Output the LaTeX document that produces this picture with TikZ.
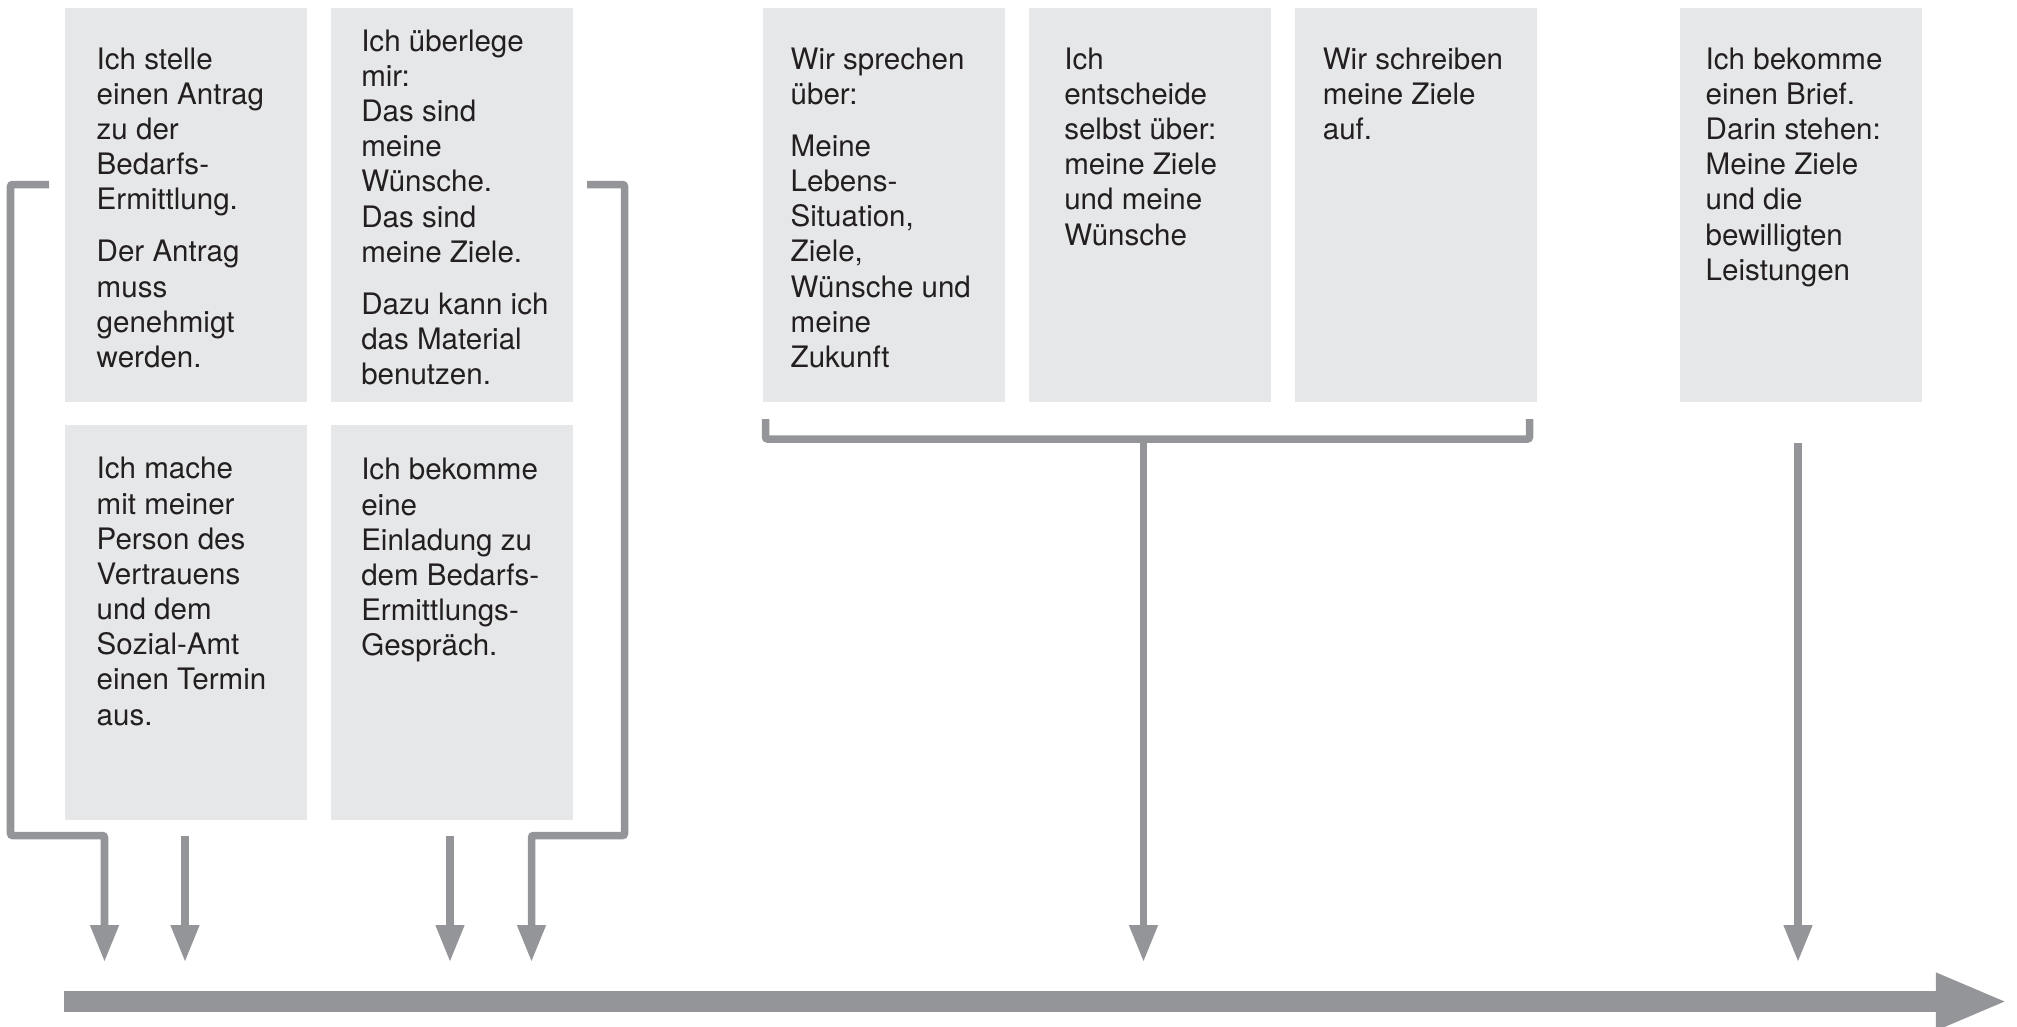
\documentclass[tikz,border=0pt]{standalone}
\usepackage{fontspec}
\setmainfont{TeX Gyre Heros}
\usepackage{xcolor}
\usepackage{tikz}
\usetikzlibrary{arrows.meta, positioning}
\definecolor{cBox}{RGB}{230,231,232}
\definecolor{cLine}{RGB}{148,149,153}
\definecolor{cText}{RGB}{35,31,32}
\tikzset{
	box/.style     ={rectangle, fill=cBox, draw=none, inner sep=0pt, minimum width=2.42cm, minimum height=3.94cm},
	txt/.style     ={inner sep=0pt, align=left, text=cText, font=\fontsize{8.4}{10}\selectfont},
	link/.style    ={draw=cLine, line width=0.075cm, rounded corners=0.6pt},
	flow/.style    ={link, -{Triangle[length=0.37cm, width=0.27cm]}},
	timeline/.style={draw=cLine, line width=0.21cm, -{Triangle[length=0.72cm, width=0.52cm]}},
}
\begin{document}
\begin{tikzpicture}[x=0.01cm, y=-0.01cm]
	\useasboundingbox (0,0) rectangle (2017,1026);
	\node[box, anchor=north west] (b1) at (64,7) {};
	\node[box, right=0.23cm of b1] (b2) {};
	\node[box, below=0.22cm of b1] (b3) {};
	\node[box, below=0.22cm of b2] (b4) {};
	\node[box, anchor=north west] (b5) at (762,7) {};
	\node[box, right=0.23cm of b5] (b6) {};
	\node[box, right=0.22cm of b6] (b7) {};
	\node[box, anchor=north west] (b8) at (1679,7) {};
	\node[txt, below right=0.40cm and 0.32cm of b1.north west] (t1) {Ich stelle\\einen Antrag\\zu der\\Bedarfs-\\Ermittlung.\\[4.8pt]Der Antrag\\muss\\genehmigt\\werden.};
	\node[txt, below right=0.22cm and 0.30cm of b2.north west] (t2) {Ich überlege\\mir:\\Das sind\\meine\\Wünsche.\\Das sind\\meine Ziele.\\[4.8pt]Dazu kann ich\\das Material\\benutzen.};
	\node[txt, below right=0.32cm and 0.32cm of b3.north west] (t3) {Ich mache\\mit meiner\\Person des\\Vertrauens\\und dem\\Sozial-Amt\\einen Termin\\aus.};
	\node[txt, below right=0.33cm and 0.30cm of b4.north west] (t4) {Ich bekomme\\eine\\Einladung zu\\dem Bedarfs-\\Ermittlungs-\\Gespräch.};
	\node[txt, below right=0.40cm and 0.28cm of b5.north west] (t5) {Wir sprechen\\über:\\[4.8pt]Meine\\Lebens-\\Situation,\\Ziele,\\Wünsche und\\meine\\Zukunft};
	\node[txt, below right=0.40cm and 0.35cm of b6.north west] (t6) {Ich\\entscheide\\selbst über:\\meine Ziele\\und meine\\Wünsche};
	\node[txt, below right=0.40cm and 0.28cm of b7.north west] (t7) {Wir schreiben\\meine Ziele\\auf.};
	\node[txt, below right=0.40cm and 0.26cm of b8.north west] (t8) {Ich bekomme\\einen Brief.\\Darin stehen:\\Meine Ziele\\und die\\bewilligten\\Leistungen};
	\coordinate (lb) at (49,184.5);
	\coordinate (rb) at (587,184.5);
	\coordinate (ml) at (765.5,419);
	\coordinate (mr) at (1529.5,419);
	\coordinate (s2) at (185,835.5);
	\coordinate (s3) at (450,835.5);
	\coordinate (s6) at (1798,443);
	\coordinate (a1) at (104.5,962); \coordinate (a2) at (185,962); \coordinate (a3) at (450,962);
	\coordinate (a4) at (531.5,962); \coordinate (a5) at (1143.5,962); \coordinate (a6) at (1798,962);
	\coordinate (tl0) at (64,1001.5);
	\coordinate (tl1) at (2008,1001.5);
	\draw[flow] (lb) -- ++(-38.5,0) -- ++(0,651) -| (a1);
	\draw[flow] (rb) -- ++(37.5,0) -- ++(0,651) -| (a4);
	\draw[flow] (s2) -- (a2); \draw[flow] (s3) -- (a3);
	\draw[link] (ml) -- ++(0,20) coordinate (mbl) -- ++(764,0) -- (mr);
	\draw[flow] (mbl -| a5) -- (a5);
	\draw[flow] (s6) -- (a6);
	\draw[timeline] (tl0) -- (tl1);
\end{tikzpicture}
\end{document}
